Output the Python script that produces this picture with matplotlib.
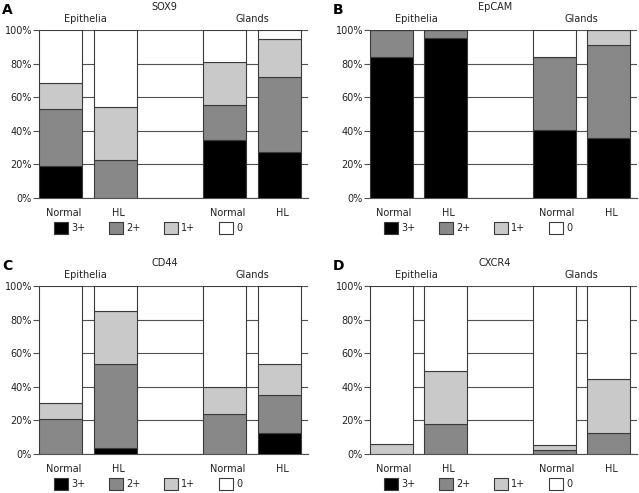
#!/usr/bin/env python3
"""
Stacked bar panels of staining intensity (3+, 2+, 1+, 0) for four markers.
"""

import matplotlib
matplotlib.use("Agg")
import matplotlib.pyplot as plt
from matplotlib.patches import Patch
import numpy as np

# Bars: Epithelia Normal, Epithelia HL, Glands Normal, Glands HL
bar_labels = ["Normal", "HL", "Normal", "HL"]
group_labels = ["Epithelia", "Glands"]
score_labels = ["3+", "2+", "1+", "0"]
panel_letters = ["A", "B", "C", "D"]
markers = ["SOX9", "EpCAM", "CD44", "CXCR4"]

# percentages per score for each bar
sox9_3 = [19.2, 0.0, 34.8, 27.3]
sox9_2 = [33.8, 22.9, 20.7, 44.8]
sox9_1 = [15.4, 31.4, 25.7, 22.6]
sox9_0 = [31.6, 45.7, 18.8, 5.3]

epcam_3 = [84.2, 95.3, 40.7, 36.0]
epcam_2 = [15.8, 4.7, 43.3, 55.1]
epcam_1 = [0.0, 0.0, 0.0, 8.9]
epcam_0 = [0.0, 0.0, 16.0, 0.0]

cd44_3 = [0.0, 3.6, 0.0, 12.7]
cd44_2 = [20.8, 50.1, 24.0, 22.5]
cd44_1 = [9.5, 31.6, 15.6, 18.3]
cd44_0 = [69.7, 14.7, 60.4, 46.5]

cxcr4_3 = [0.0, 0.0, 0.0, 0.0]
cxcr4_2 = [0.0, 17.8, 2.4, 12.5]
cxcr4_1 = [5.9, 31.5, 2.9, 32.1]
cxcr4_0 = [94.1, 50.7, 94.7, 55.4]

panel_data = [
    [sox9_3, sox9_2, sox9_1, sox9_0],
    [epcam_3, epcam_2, epcam_1, epcam_0],
    [cd44_3, cd44_2, cd44_1, cd44_0],
    [cxcr4_3, cxcr4_2, cxcr4_1, cxcr4_0],
]

colors = ["#000000", "#888888", "#c9c9c9", "#ffffff"]
edge = "#3a3a3a"
grid_col = "#505050"
positions = np.array([0, 1, 3, 4])
bar_width = 0.79

W, H = 639, 493
# axes boxes in pixels: left, right, top, bottom
boxes = [
    (39, 308, 30, 198),
    (370, 637, 30, 198),
    (39, 308, 286, 454),
    (370, 637, 286, 454),
]

plt.rcParams["font.family"] = "DejaVu Sans"
fig = plt.figure(figsize=(W / 100, H / 100), dpi=100)

for i, (l, r, t, b) in enumerate(boxes):
    ax = fig.add_axes([l / W, 1 - b / H, (r - l) / W, (b - t) / H])
    bottoms = np.zeros(len(positions))
    for vals, col in zip(panel_data[i], colors):
        ax.bar(positions, vals, bottom=bottoms, width=bar_width, color=col,
               edgecolor=edge, linewidth=0.8, zorder=3)
        bottoms += np.array(vals)

    ax.set_xlim(-bar_width / 2, 4.52)
    ax.set_ylim(0, 100)
    ax.set_yticks([0, 20, 40, 60, 80, 100])
    ax.set_yticklabels([f"{v}%" for v in range(0, 101, 20)])
    ax.yaxis.grid(True, color=grid_col, linewidth=0.8, zorder=0)
    ax.set_axisbelow(True)

    ax.set_xticks(positions + 0.05)
    ax.set_xticklabels(bar_labels)
    ax.tick_params(axis="x", length=0, pad=7, labelsize=7, colors="#222222")
    ax.tick_params(axis="y", length=4, width=0.8, color=grid_col, pad=1,
                   labelsize=7, labelcolor="#222222")

    for side in ["top", "right"]:
        ax.spines[side].set_visible(False)
    ax.spines["left"].set_color(grid_col)
    ax.spines["bottom"].set_color(grid_col)
    ax.spines["left"].set_linewidth(0.8)
    ax.spines["bottom"].set_linewidth(0.8)

    # group labels and marker title
    ax.text(0.45, 103.3, group_labels[0], ha="center", va="bottom",
            fontsize=7, color="#222222")
    ax.text(3.5, 103.3, group_labels[1], ha="center", va="bottom",
            fontsize=7, color="#222222")
    ax.text(1.9, 110.8, markers[i], ha="center", va="bottom",
            fontsize=7, color="#222222")

    # panel letter
    fig.text((l - 37) / W, 1 - (t - 20) / H, panel_letters[i],
             fontsize=10, fontweight="bold", va="center", ha="left")

    handles = [Patch(facecolor=c, edgecolor=edge, linewidth=0.8) for c in colors]
    ax.legend(handles, score_labels, loc="upper center",
              bbox_to_anchor=(0.405, -0.118), ncol=4, frameon=False,
              fontsize=7, handlelength=1.5, handleheight=1.5,
              handletextpad=0.3, columnspacing=2.4, borderaxespad=0,
              labelcolor="#222222")

fig.savefig("out.png", dpi=100)
plt.close(fig)
